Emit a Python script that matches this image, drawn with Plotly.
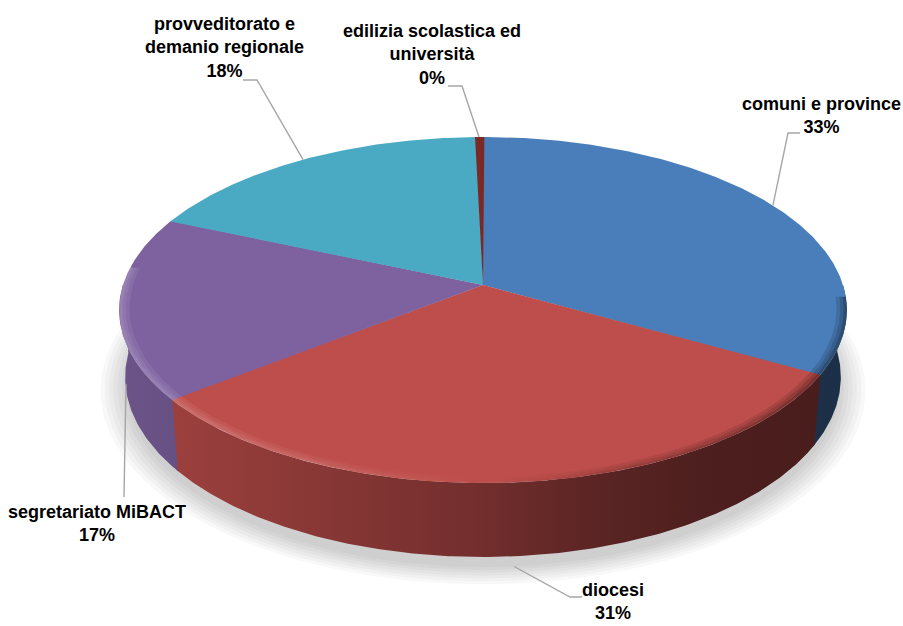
import numpy as np
import plotly.graph_objects as go

# ---- data -----------------------------------------------------------------
categories = [
    "comuni e province",
    "diocesi",
    "segretariato MiBACT",
    "provveditorato e demanio regionale",
    "edilizia scolastica ed università",
]
values = [33, 31, 17, 18, 0.4]
label_lines = [
    ["comuni e province"],
    ["diocesi"],
    ["segretariato MiBACT"],
    ["provveditorato e", "demanio regionale"],
    ["edilizia scolastica ed", "università"],
]
slice_colors = ["#4A7EBA", "#BE4E4B", "#7E62A0", "#4AAAC4", "#7B2926"]

# label centres and leader-line elbows (page pixels)
label_pos = [(821, 115), (613, 601), (97, 523), (224, 47), (432, 54)]
leader_start = [
    [(800, 133), (788, 133)],
    [(582, 597), (570, 597)],
    [(124, 497)],
    [(243, 80), (257, 80)],
    [(448, 86), (462, 86)],
]

W, H = 903, 626

# ---- perspective view of a tilted disc ------------------------------------
CX, CY = 483.0, 285.0
FOCAL = 2198.0
DIST = 6.105
SIN_T, COS_T = 0.4705, 0.8824
THICK = 0.2133
SIDE_X0, SIDE_X1 = CX - 364, CX + 364


def project(theta, r=1.0, h=0.0):
    theta = np.asarray(theta, dtype=float)
    x = r * np.sin(theta)
    z = r * np.cos(theta)
    v = z * SIN_T + h * COS_T
    w = DIST + z * COS_T - h * SIN_T
    return CX + FOCAL * x / w, CY - FOCAL * v / w


def arc(t0, t1, step=np.radians(0.5)):
    n = max(2, int(np.ceil((t1 - t0) / step)) + 1)
    return np.linspace(t0, t1, n)


def shade(hexcol, f):
    r, g, b = (int(hexcol[i:i + 2], 16) for i in (1, 3, 5))
    return "rgb(%d,%d,%d)" % (min(255, r * f), min(255, g * f), min(255, b * f))


fractions = np.array(values, dtype=float) / sum(values)
edges = 2 * np.pi * np.concatenate([[0.0], np.cumsum(fractions)])

fig = go.Figure()


def polygon(xs, ys, **kw):
    fig.add_trace(go.Scatter(
        x=np.append(xs, xs[0]), y=np.append(ys, ys[0]),
        mode="lines", fill="toself", hoverinfo="skip", showlegend=False, **kw))


# soft shadow under the disc
full = arc(0, 2 * np.pi, np.radians(1))
for r in np.linspace(1.07, 1.0, 7):
    xs, ys = project(full, r, -THICK - 0.03)
    polygon(xs, ys, fillcolor="rgba(0,0,0,0.026)", line=dict(width=0))

# outer wall of the disc, shaded from left (lit) to right (dark)
side_shade = [(0.0, 0.86), (0.5, 0.60), (0.65, 0.48), (0.8, 0.41), (1.0, 0.38)]
lo, hi = np.radians(90), np.radians(270)
pad = np.radians(0.4)
for i, col in enumerate(slice_colors):
    a0 = max(edges[i], lo)
    a1 = min(edges[i + 1] + pad, hi)
    if a1 <= a0:
        continue
    th = arc(a0, a1)
    xt, yt = project(th, 1.0, 0.0)
    xb, yb = project(th[::-1], 1.0, -THICK)
    polygon(np.concatenate([xt, xb]), np.concatenate([yt, yb]),
            line=dict(width=0),
            fillgradient=dict(type="horizontal",
                              colorscale=[[t, shade(col, f)] for t, f in side_shade],
                              start=SIDE_X0, stop=SIDE_X1))

# top faces of the slices
for i, col in enumerate(slice_colors):
    th = arc(edges[i], edges[i + 1] + np.radians(0.25))
    xs, ys = project(th, 1.0, 0.0)
    polygon(np.concatenate([[CX], xs]), np.concatenate([[CY], ys]),
            fillcolor=col, line=dict(width=0))

# bevel along the front rim of the top face (light on the left, dark on the right)
rim = arc(np.radians(94), np.radians(276))
for r_in, r_out, amp in [(0.972, 0.982, 0.35), (0.982, 0.991, 0.65), (0.991, 1.0, 1.0)]:
    xo, yo = project(rim, r_out, 0.0)
    xi, yi = project(rim[::-1], r_in, 0.0)
    polygon(np.concatenate([xo, xi]), np.concatenate([yo, yi]),
            line=dict(width=0),
            fillgradient=dict(type="horizontal", start=SIDE_X0, stop=SIDE_X1,
                              colorscale=[
                                  [0.0, "rgba(255,255,255,%.3f)" % (0.20 * amp)],
                                  [0.25, "rgba(255,255,255,%.3f)" % (0.14 * amp)],
                                  [0.49, "rgba(255,255,255,0)"],
                                  [0.51, "rgba(0,0,0,0)"],
                                  [0.72, "rgba(0,0,0,%.3f)" % (0.22 * amp)],
                                  [1.0, "rgba(0,0,0,%.3f)" % (0.40 * amp)],
                              ]))

# leader lines and labels
mids = (edges[:-1] + edges[1:]) / 2
for i, m in enumerate(mids):
    if np.cos(m) > 0:
        ax, ay = project(m, 1.0, 0.0)
    else:
        ax, ay = project(m, 1.0, -THICK - 0.03)
    pts = leader_start[i] + [(float(ax), float(ay))]
    fig.add_trace(go.Scatter(
        x=[p[0] for p in pts], y=[p[1] for p in pts], mode="lines",
        line=dict(color="rgb(166,166,166)", width=1.4),
        hoverinfo="skip", showlegend=False))
    pct = "%d%%" % round(100 * fractions[i])
    fig.add_annotation(
        x=label_pos[i][0], y=label_pos[i][1], xref="x", yref="y",
        text="<br>".join(label_lines[i] + [pct]), showarrow=False,
        xanchor="center", yanchor="middle", align="center",
        font=dict(family="Liberation Sans Narrow, Arial Narrow, Liberation Sans, Arial",
                  size=18, color="black", weight="bold"))

fig.update_layout(
    width=W, height=H, margin=dict(l=0, r=0, t=0, b=0),
    paper_bgcolor="white", plot_bgcolor="white", showlegend=False,
    xaxis=dict(range=[0, W], visible=False, fixedrange=True),
    yaxis=dict(range=[H, 0], visible=False, fixedrange=True),
)

fig.write_html("out.html")
